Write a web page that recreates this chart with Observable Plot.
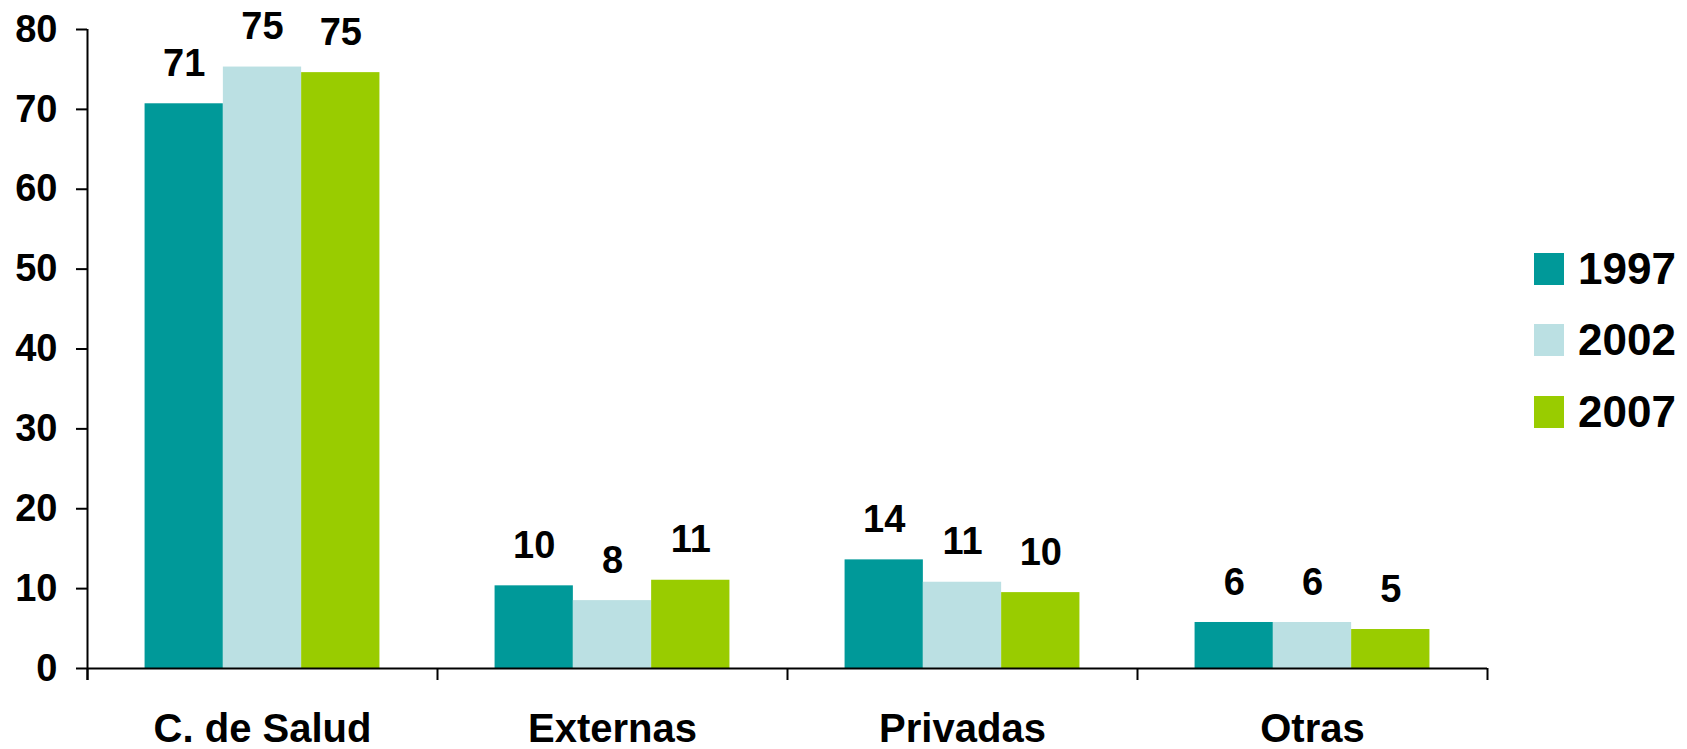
<!DOCTYPE html>
<html>
<head>
<meta charset="utf-8">
<script src="https://cdn.jsdelivr.net/npm/d3@7"></script>
<script src="https://cdn.jsdelivr.net/npm/@observablehq/plot@0.6"></script>
<style>
  html, body { margin: 0; padding: 0; background: #fff; }
  #wrap { position: relative; width: 1687px; height: 749px; font-family: "Liberation Sans", Arial, sans-serif; }
  #legend { position: absolute; left: 1534px; top: 233px; }
  .row { display: flex; align-items: center; height: 71.5px; }
  .sw { width: 30px; height: 32px; margin-right: 14px; }
  .lt { font-size: 44px; font-weight: bold; color: #000; line-height: 1; }
</style>
</head>
<body>
<div id="wrap"><div id="legend"></div></div>
<script>
const categories = ["C. de Salud", "Externas", "Privadas", "Otras"];
const years = ["1997", "2002", "2007"];
const colors = ["#009999", "#BBE0E3", "#99CC00"];
const v1997 = [70.7, 10.35, 13.6, 5.76];
const v2002 = [75.3, 8.5, 10.8, 5.76];
const v2007 = [74.6, 11.05, 9.5, 4.88];
const l1997 = ["71", "10", "14", "6"];
const l2002 = ["75", "8", "11", "6"];
const l2007 = ["75", "11", "10", "5"];
const yTicks = [0, 10, 20, 30, 40, 50, 60, 70, 80];

const values = [v1997, v2002, v2007];
const labels = [l1997, l2002, l2007];
const groupWidth = 0.671;
const barW = groupWidth / years.length;

const data = categories.flatMap((c, i) => years.map((y, j) => {
  const x1 = i + 0.5 - groupWidth / 2 + j * barW;
  return { cat: c, year: y, value: values[j][i], label: labels[j][i], x1, x2: x1 + barW, xm: x1 + barW / 2 };
}));

const chart = Plot.plot({
  width: 1687,
  height: 749,
  marginLeft: 87,
  marginRight: 200,
  marginTop: 29,
  marginBottom: 81,
  style: { fontFamily: "Liberation Sans, Arial, sans-serif", color: "#000", background: "#fff" },
  x: { domain: [0, categories.length], axis: null },
  y: { domain: [0, 80], axis: null },
  color: { domain: years, range: colors },
  marks: [
    Plot.rectY(data, { x1: "x1", x2: "x2", y: "value", fill: "year" }),
    Plot.text(data, { x: "xm", y: "value", text: "label", dy: -40, fontSize: 38, fontWeight: "bold", fill: "#000" }),
    Plot.ruleY([0], { stroke: "#000", strokeWidth: 2 }),
    Plot.ruleX([0], { stroke: "#000", strokeWidth: 2, insetBottom: -12 }),
    Plot.axisY({ ticks: yTicks, tickSize: 11, tickPadding: 19, fontSize: 38, fontWeight: "bold", strokeWidth: 2, label: null }),
    Plot.axisX({ ticks: d3.range(categories.length + 1), tickSize: 12, tickFormat: () => "", strokeWidth: 2, label: null }),
    Plot.axisX({ ticks: categories.map((c, i) => i + 0.5), tickSize: 0, tickPadding: 45, tickFormat: d => categories[Math.floor(d)], fontSize: 40, fontWeight: "bold", label: null })
  ]
});

const wrap = document.getElementById("wrap");
wrap.insertBefore(chart, wrap.firstChild);

const legend = document.getElementById("legend");
years.forEach((y, j) => {
  const row = document.createElement("div");
  row.className = "row";
  const sw = document.createElement("div");
  sw.className = "sw";
  sw.style.background = colors[j];
  const t = document.createElement("div");
  t.className = "lt";
  t.textContent = y;
  row.appendChild(sw);
  row.appendChild(t);
  legend.appendChild(row);
});
</script>
</body>
</html>
